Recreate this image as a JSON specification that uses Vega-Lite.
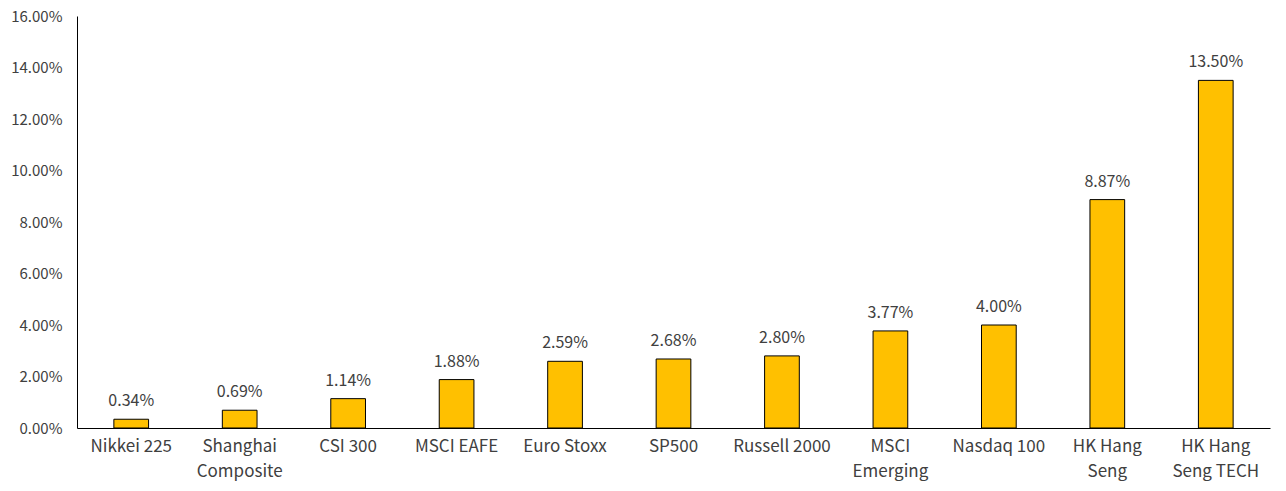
{
  "$schema": "https://vega.github.io/schema/vega-lite/v6.json",
  "autosize": "none",
  "width": 1193,
  "height": 412,
  "padding": {"left": 77, "top": 16, "right": 16, "bottom": 63},
  "background": "white",
  "config": {"view": {"stroke": null}, "font": "Noto Sans CJK SC"},
  "data": {"values": [
    {"index": "Nikkei 225", "ret": 0.0034},
    {"index": "Shanghai Composite", "ret": 0.0069},
    {"index": "CSI 300", "ret": 0.0114},
    {"index": "MSCI EAFE", "ret": 0.0188},
    {"index": "Euro Stoxx", "ret": 0.0259},
    {"index": "SP500", "ret": 0.0268},
    {"index": "Russell 2000", "ret": 0.0280},
    {"index": "MSCI Emerging", "ret": 0.0377},
    {"index": "Nasdaq 100", "ret": 0.0400},
    {"index": "HK Hang Seng", "ret": 0.0887},
    {"index": "HK Hang Seng TECH", "ret": 0.1350}
  ]},
  "encoding": {
    "x": {"field": "index", "type": "nominal", "sort": null,
      "scale": {"paddingInner": 0.68, "paddingOuter": 0.34},
      "axis": {"title": null, "labelAngle": 0, "ticks": false, "domainColor": "#000000", "domainWidth": 1,
        "labelFontSize": 17, "labelColor": "#404040", "labelPadding": 10, "labelLineHeight": 25, "labelBaseline": "top",
        "labelExpr": "datum.label == 'Shanghai Composite' ? ['Shanghai', 'Composite'] : datum.label == 'MSCI Emerging' ? ['MSCI', 'Emerging'] : datum.label == 'HK Hang Seng' ? ['HK Hang', 'Seng'] : datum.label == 'HK Hang Seng TECH' ? ['HK Hang', 'Seng TECH'] : datum.label"}},
    "y": {"field": "ret", "type": "quantitative",
      "scale": {"domain": [0, 0.16]},
      "axis": {"title": null, "format": ".2%", "values": [0, 0.02, 0.04, 0.06, 0.08, 0.1, 0.12, 0.14, 0.16],
        "grid": false, "ticks": false, "domainColor": "#000000", "domainWidth": 1,
        "labelFontSize": 15, "labelColor": "#404040", "labelPadding": 15}}
  },
  "layer": [
    {"mark": {"type": "bar", "color": "#FFC000", "stroke": "#000000", "strokeWidth": 1}},
    {"mark": {"type": "text", "baseline": "bottom", "dy": -10, "fontSize": 16, "color": "#404040"},
      "encoding": {"text": {"field": "ret", "type": "quantitative", "format": ".2%"}}}
  ]
}
